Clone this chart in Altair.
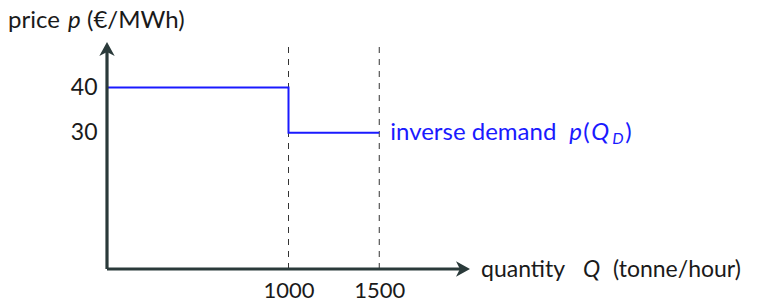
import altair as alt
import pandas as pd

# ---- data ----
q_steps = [0, 1000, 1500]          # quantity breakpoints (tonne/hour)
p_steps = [40, 30, 30]             # price (EUR/MWh), step-after
x_ticks = [1000, 1500]
y_ticks = [30, 40]
dashed_q = [1000, 1500]
x_max = 2000
y_max = 50

FONT = "Lato"
FS = 23
AXIS_COLOR = "#2a3a3a"
DASH_COLOR = "#333333"
BLUE = "#1a1aff"
TXT = "#1a1a1a"

xs = alt.Scale(domain=[0, x_max], nice=False, zero=True)
ys = alt.Scale(domain=[0, y_max], nice=False, zero=True)

line_df = pd.DataFrame({"q": q_steps, "p": p_steps})
dash_df = pd.DataFrame({"q": dashed_q})

demand = alt.Chart(line_df).mark_line(
    interpolate="step-after", color=BLUE, strokeWidth=2
).encode(
    x=alt.X("q:Q", scale=xs, axis=alt.Axis(
        values=x_ticks, format="d", domain=False, ticks=False, tickSize=0, grid=False,
        labelFont=FONT, labelFontSize=22, labelColor=TXT, labelPadding=11,
        labelFlush=False, title=None)),
    y=alt.Y("p:Q", scale=ys, axis=alt.Axis(
        values=y_ticks, domain=False, ticks=False, tickSize=0, grid=False,
        labelFont=FONT, labelFontSize=FS, labelColor=TXT, labelPadding=10,
        labelFlush=False, title=None)),
)

dashes = alt.Chart(dash_df).mark_rule(
    color=DASH_COLOR, strokeWidth=1, strokeDash=[6, 6]
).encode(x="q:Q", y=alt.datum(0), y2=alt.datum(y_max))

x_axis_line = alt.Chart().mark_rule(color=AXIS_COLOR, strokeWidth=3.2).encode(
    x=alt.datum(0), x2=alt.datum(x_max - 45), y=alt.datum(0))
y_axis_line = alt.Chart().mark_rule(color=AXIS_COLOR, strokeWidth=3.2).encode(
    x=alt.datum(0), y=alt.datum(0), y2=alt.datum(y_max - 1.8))

arrow_right = "M0,0L-1,-0.55L-0.72,0L-1,0.55Z"
arrow_up = "M0,0L-0.55,1L0,0.72L0.55,1Z"
x_head = alt.Chart().mark_point(
    shape=arrow_right, size=784, filled=True, color=AXIS_COLOR, opacity=1, strokeWidth=0
).encode(x=alt.datum(x_max), y=alt.datum(0))
y_head = alt.Chart().mark_point(
    shape=arrow_up, size=784, filled=True, color=AXIS_COLOR, opacity=1, strokeWidth=0
).encode(x=alt.datum(0), y=alt.datum(y_max))


def piece(text, xv, yv, dx, dy, italic=False, size=FS, color=TXT):
    return alt.Chart().mark_text(
        text=text, align="left", baseline="alphabetic", dx=dx, dy=dy,
        font=FONT, fontSize=size, fontStyle="italic" if italic else "normal",
        color=color,
    ).encode(x=alt.datum(xv), y=alt.datum(yv))


y_title = [
    piece("price", 0, y_max, -99, -14, size=24),
    piece("p", 0, y_max, -39, -14, italic=True, size=24),
    piece("(€/MWh)", 0, y_max, -20, -14, size=24),
]
x_title = [
    piece("quantity", x_max, 0, 11, 8),
    piece("Q", x_max, 0, 113, 8, italic=True),
    piece("(tonne/hour)", x_max, 0, 143, 8),
]
demand_label = [
    piece("inverse demand", 1500, 30, 11, 7, size=24, color=BLUE),
    piece("p", 1500, 30, 190, 7, italic=True, size=24, color=BLUE),
    piece("(", 1500, 30, 204, 7, size=24, color=BLUE),
    piece("Q", 1500, 30, 212, 7, italic=True, size=24, color=BLUE),
    piece("D", 1500, 30, 233, 11, italic=True, size=16, color=BLUE),
    piece(")", 1500, 30, 246, 7, size=24, color=BLUE),
]

chart = alt.layer(
    dashes, demand, x_axis_line, y_axis_line, x_head, y_head,
    *y_title, *x_title, *demand_label,
).properties(
    width=363, height=227,
    background="white",
    autosize=alt.AutoSizeParams(type="none"),
    padding={"left": 99, "top": 34, "right": 281, "bottom": 31},
).configure_view(stroke=None).configure_axis(grid=False)

chart.save("out.html", embed_options={"renderer": "svg", "actions": False})
